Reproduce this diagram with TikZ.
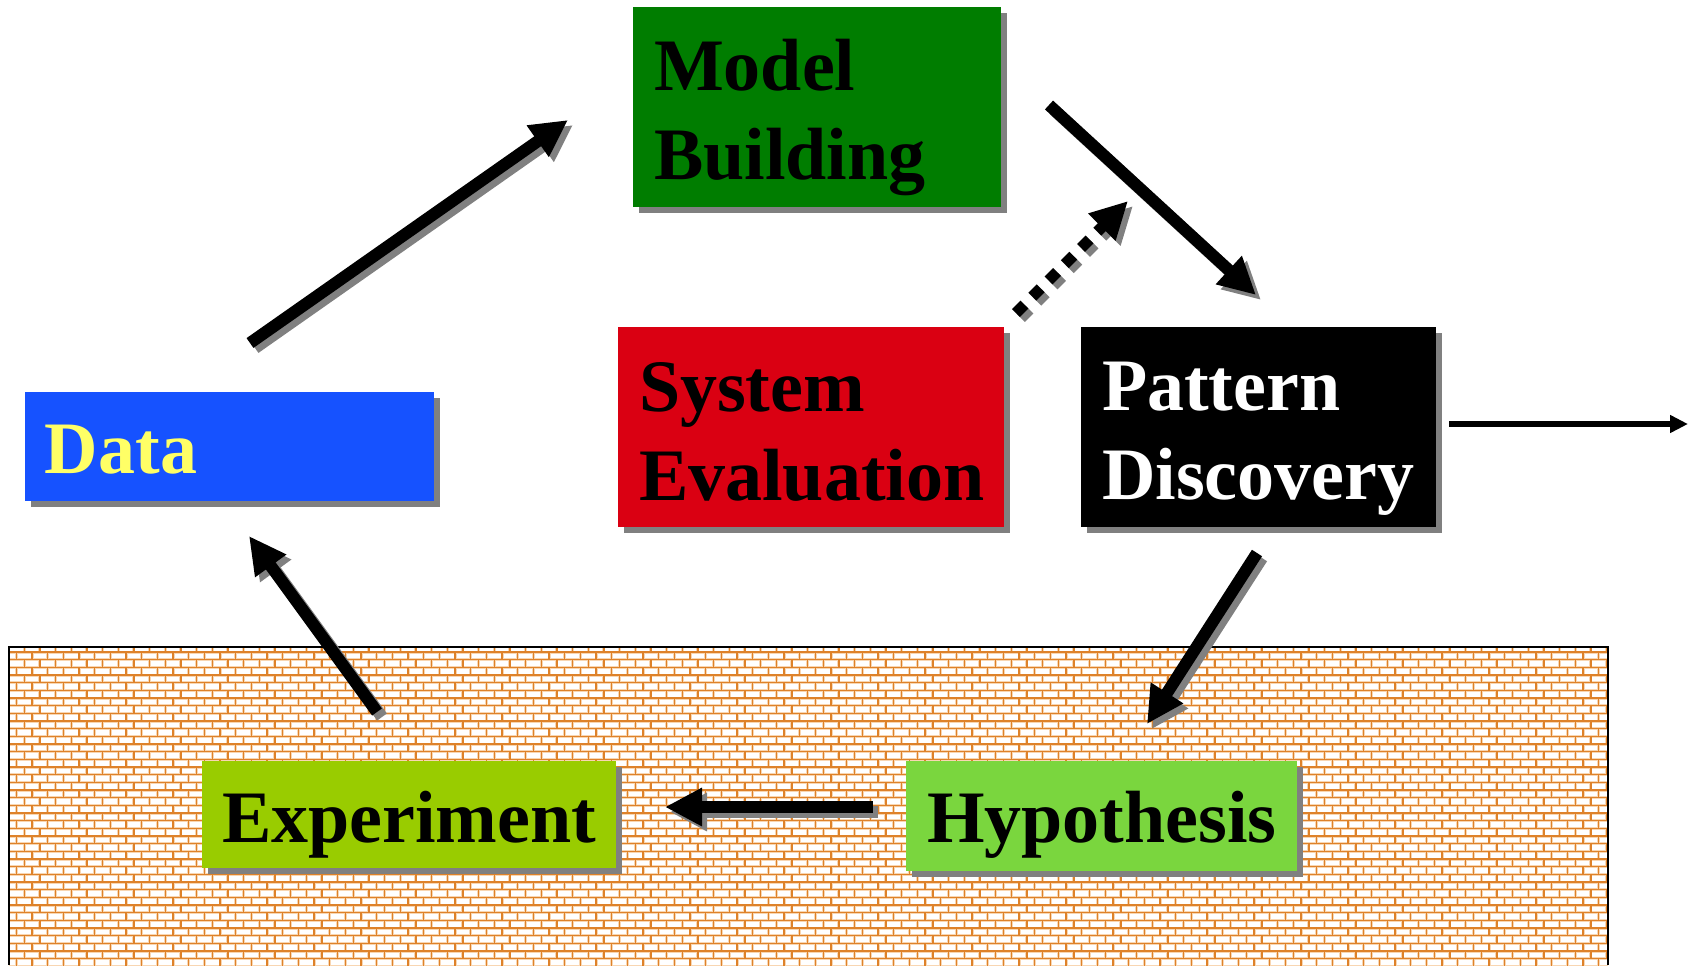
\documentclass[tikz,border=0pt]{standalone}
\usepackage{fontspec}
\setmainfont{Liberation Serif}
\usetikzlibrary{arrows.meta,shadows}

\definecolor{mbgreen}{RGB}{0,125,0}
\definecolor{datablue}{RGB}{22,82,255}
\definecolor{evalred}{RGB}{218,0,18}
\definecolor{expgreen}{RGB}{153,204,0}
\definecolor{hypgreen}{RGB}{122,214,62}
\definecolor{datayellow}{RGB}{255,255,102}
\definecolor{shadowgray}{RGB}{128,128,128}
\definecolor{mortardark}{RGB}{222,130,42}
\definecolor{mortarlight}{RGB}{248,214,178}

\begin{document}
\begin{tikzpicture}[x=0.5pt,y=-0.5pt,
  box/.style={draw=none, inner sep=0pt, outer sep=0pt,
    drop shadow={shadow xshift=3pt, shadow yshift=-3pt, fill=shadowgray, opacity=1}},
  lbl/.style={anchor=base west, inner sep=0pt, outer sep=0pt,
    font=\bfseries\fontsize{37}{44}\selectfont},
  bigarrow/.style={line width=6pt, -{Triangle[length=18.5pt,width=18pt]}},
  arrowshade/.style={draw=shadowgray, transform canvas={shift={(2.5pt,-2.5pt)}}},
  dotarrow/.style={bigarrow, line width=5.5pt, dash pattern=on 6pt off 5.5pt},
  thinarrow/.style={line width=3pt, -{Triangle[length=9pt,width=8.5pt]}}
]
\useasboundingbox (0,0) rectangle (1699,965);

% ---- brick wall background ----
\begin{scope}
  \clip (9,647) rectangle (1608,965);
  \fill[white] (9,647) rectangle (1608,965);
  % soft halo around the mortar joints
  \foreach \k [evaluate=\k as \yy using 652+7.667*\k,
               evaluate=\k as \xs using (\k+2-2*int((\k+2)/2))*7.833] in {-1,...,41} {
    \draw[mortarlight, line width=1.5pt] (0,\yy) -- (1700,\yy);
    \draw[mortarlight, line width=3.833pt, dash pattern=on 1.5pt off 6.333pt]
      (\xs-0.7,\yy+3.833) -- (1700,\yy+3.833);
  }
  % mortar joints
  \foreach \k [evaluate=\k as \yy using 652+7.667*\k,
               evaluate=\k as \xs using (\k+2-2*int((\k+2)/2))*7.833] in {-1,...,41} {
    \draw[mortardark, line width=0.7pt] (0,\yy) -- (1700,\yy);
    \draw[mortardark, line width=3.833pt, dash pattern=on 0.7pt off 7.133pt]
      (\xs+0.1,\yy+3.833) -- (1700,\yy+3.833);
  }
\end{scope}
\draw[line width=1pt] (9,965) -- (9,647) -- (1608,647) -- (1608,965);

% ---- boxes ----
\node[box, fill=mbgreen, minimum width=184pt, minimum height=100pt] (model) at (817,107) {};
\node[box, fill=datablue, minimum width=204.5pt, minimum height=54.5pt] (data) at (229.5,446.5) {};
\node[box, fill=evalred, minimum width=193pt, minimum height=100pt] (sysev) at (811,427) {};
\node[box, fill=black, minimum width=177.5pt, minimum height=100pt] (pattern) at (1258.5,427) {};
\node[box, fill=expgreen, minimum width=207pt, minimum height=53.5pt] (exper) at (409,814.5) {};
\node[box, fill=hypgreen, minimum width=195.5pt, minimum height=55pt] (hypo) at (1101.5,816) {};

% ---- labels ----
\node[lbl] (model-a) at (654,90) {Model};
\node[lbl] (model-b) at (654,179) {Building};
\node[lbl, text=datayellow] (data-a) at (45,473) {Data};
\node[lbl] (sysev-a) at (639,411) {System};
\node[lbl] (sysev-b) at (639,500) {Evaluation};
\node[lbl, text=white] (pattern-a) at (1102,410) {Pattern};
\node[lbl, text=white] (pattern-b) at (1102,499) {Discovery};
\node[lbl] (exper-a) at (222,842) {Experiment};
\node[lbl] (hypo-a) at (927,842) {Hypothesis};

% ---- connector end points ----
\coordinate (dm1) at (250,343);   \coordinate (dm2) at (568,120);
\coordinate (mp1) at (1049,105);  \coordinate (mp2) at (1256,295);
\coordinate (se1) at (1016,313);  \coordinate (se2) at (1128,201);
\coordinate (ph1) at (1257,553);  \coordinate (ph2) at (1147,724);
\coordinate (he1) at (873,807);   \coordinate (he2) at (665,807);
\coordinate (ed1) at (377,712);   \coordinate (ed2) at (249,536);
\coordinate (out1) at (1449,424); \coordinate (out2) at (1688,424);

% ---- arrow shadows ----
\draw[bigarrow, arrowshade] (dm1) -- (dm2);
\draw[bigarrow, arrowshade] (mp1) -- (mp2);
\draw[dotarrow, arrowshade] (se1) -- (se2);
\draw[bigarrow, arrowshade] (ph1) -- (ph2);
\draw[bigarrow, arrowshade] (he1) -- (he2);
\draw[bigarrow, arrowshade] (ed1) -- (ed2);

% ---- arrows ----
\draw[bigarrow] (dm1) -- (dm2);
\draw[bigarrow] (mp1) -- (mp2);
\draw[dotarrow] (se1) -- (se2);
\draw[bigarrow] (ph1) -- (ph2);
\draw[bigarrow] (he1) -- (he2);
\draw[bigarrow] (ed1) -- (ed2);
\draw[thinarrow] (out1) -- (out2);
\end{tikzpicture}
\end{document}
